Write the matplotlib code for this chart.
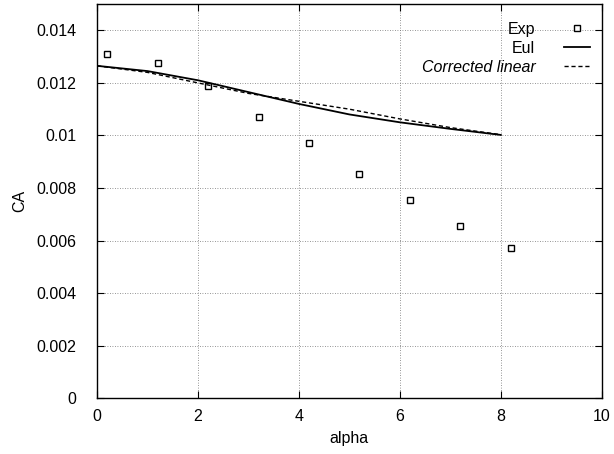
import numpy as np
import matplotlib
matplotlib.use("Agg")
import matplotlib.pyplot as plt
from matplotlib.ticker import FuncFormatter

# experimental points
alpha_exp = [0.2, 1.2, 2.2, 3.2, 4.2, 5.2, 6.2, 7.2, 8.2]
ca_exp = [0.0131, 0.01275, 0.0119, 0.0107, 0.0097, 0.00855, 0.00755, 0.00655, 0.0057]

# Euler computation
alpha_eul = [0, 1, 2, 3, 4, 5, 6, 7, 8]
ca_eul = [0.01265, 0.01245, 0.0121, 0.01165, 0.0112, 0.0108, 0.0105, 0.01025, 0.01002]

# corrected linear theory
alpha_lin = [0, 1, 2, 3, 4, 5, 6, 7, 8]
ca_lin = [0.01265, 0.0124, 0.0120, 0.0116, 0.0113, 0.0110, 0.01063, 0.0103, 0.01003]

xticks = [0, 2, 4, 6, 8, 10]
yticks = [0, 0.002, 0.004, 0.006, 0.008, 0.01, 0.012, 0.014]


def plot_ca():

    plt.rcParams.update({'font.size': 11.5, 'font.family': ['Liberation Sans', 'DejaVu Sans']})
    fig = plt.figure(figsize=(6.14, 4.54), dpi=100)
    ax = fig.add_axes([0.158, 0.123, 0.822, 0.868])

    ax.plot(alpha_exp, ca_exp, linestyle='none', marker='s', markersize=5,
            markerfacecolor='white', markeredgecolor='black', markeredgewidth=1.0, label='Exp')
    ax.plot(alpha_eul, ca_eul, color='black', linewidth=1.3, label='Eul')
    ax.plot(alpha_lin, ca_lin, color='black', linewidth=1.0, linestyle=(0, (3, 2)),
            label='Corrected linear')

    ax.set_xlim(0, 10)
    ax.set_ylim(0, 0.015)
    ax.set_xticks(xticks)
    ax.set_yticks(yticks)
    ax.yaxis.set_major_formatter(FuncFormatter(lambda v, p: "%g" % v))
    ax.tick_params(direction='in', top=True, right=True, length=5, width=0.8)
    ax.tick_params(axis='x', pad=8)
    ax.tick_params(axis='y', pad=15)
    ax.grid(True, linestyle=(0, (1, 2)), color='0.45', linewidth=0.6)
    for s in ax.spines.values():
        s.set_linewidth(1.0)

    ax.set_xlabel("alpha", labelpad=5)
    ax.set_ylabel("CA", labelpad=6)

    leg = ax.legend(loc='upper right', bbox_to_anchor=(0.976, 0.955), frameon=False,
                    markerfirst=False, handlelength=1.6, handletextpad=1.8,
                    labelspacing=0.25, borderpad=0.0, borderaxespad=0.0)
    # right-align the legend rows like gnuplot does
    for col in leg._legend_handle_box.get_children():
        col.align = "right"
    leg.get_texts()[2].set_fontstyle('italic')

    fig.savefig("out.png", dpi=100)


if __name__ == "__main__":
    plot_ca()
